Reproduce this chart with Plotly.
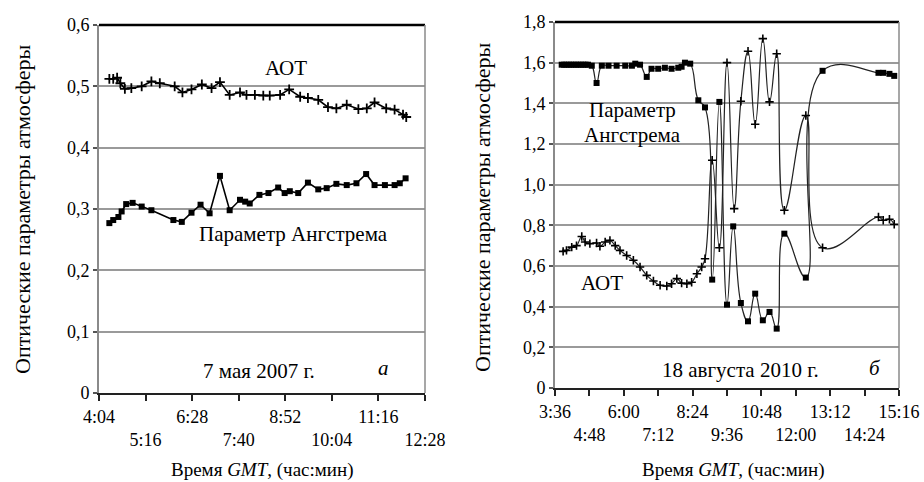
import plotly.graph_objects as go

# ---------------- data ----------------
# Panel a: 7 May 2007
a_aot_time = ["4:20","4:26","4:32","4:37","4:44","4:54","5:10","5:25","5:38","6:01","6:13","6:27",
              "6:43","6:58","7:11","7:26","7:42","7:52","8:05","8:18","8:28","8:44","8:58","9:15",
              "9:27","9:43","9:58","10:11","10:27","10:45","10:58","11:10","11:28","11:41","11:54","11:59"]
a_aot_val = [0.512,0.512,0.514,0.505,0.496,0.497,0.500,0.508,0.505,0.500,0.490,0.495,
             0.503,0.497,0.507,0.486,0.490,0.486,0.486,0.485,0.485,0.486,0.495,0.483,
             0.481,0.478,0.466,0.464,0.470,0.463,0.464,0.474,0.464,0.462,0.454,0.450]

a_ang_time = ["4:20","4:26","4:34","4:39","4:46","4:56","5:10","5:25","5:59","6:12","6:27","6:41",
              "6:55","7:11","7:26","7:42","7:50","7:57","8:12","8:26","8:41","8:51","8:59","9:12",
              "9:27","9:43","9:56","10:11","10:27","10:42","10:57","11:10","11:26","11:41","11:49","11:58"]
a_ang_val = [0.277,0.282,0.287,0.296,0.308,0.310,0.304,0.298,0.282,0.279,0.294,0.307,
             0.293,0.354,0.298,0.315,0.312,0.309,0.323,0.326,0.335,0.326,0.329,0.326,
             0.343,0.332,0.334,0.341,0.339,0.342,0.357,0.339,0.339,0.339,0.342,0.350]

# Panel b: 18 August 2010
b_ang_time = ["3:50","3:55","4:00","4:05","4:10","4:15","4:20","4:25","4:30","4:35","4:40","4:45",
              "4:53","5:03","5:14","5:28","5:45","6:03","6:17","6:24","6:34","6:48","6:58","7:12",
              "7:26","7:40","7:54","8:01","8:08","8:19","8:36","8:50","9:05","9:20","9:36","9:49",
              "10:05","10:20","10:35","10:51","11:05","11:20","11:36","12:21","12:56","14:53",
              "15:03","15:16","15:26"]
b_ang_val = [1.59,1.59,1.59,1.59,1.59,1.59,1.59,1.59,1.59,1.59,1.59,1.59,
             1.585,1.50,1.585,1.585,1.585,1.585,1.585,1.595,1.59,1.53,1.57,1.57,
             1.575,1.57,1.575,1.58,1.60,1.595,1.415,1.38,0.533,1.407,0.41,0.795,
             0.418,0.328,0.464,0.333,0.374,0.292,0.759,0.543,1.56,1.55,
             1.55,1.545,1.535]

b_aot_time = ["3:53","4:00","4:11","4:21","4:32","4:39","4:49","5:03","5:10","5:21","5:31","5:42",
              "5:52","6:06","6:20","6:34","6:48","7:02","7:16","7:30","7:40","7:51","8:01","8:12",
              "8:22","8:33","8:43","8:50","9:05","9:20","9:36","9:51","10:05","10:20","10:35",
              "10:51","11:05","11:20","11:36","12:21","12:56","14:53","15:03","15:16","15:26"]
b_aot_val = [0.672,0.677,0.693,0.700,0.745,0.718,0.710,0.713,0.697,0.718,0.726,0.700,
             0.677,0.652,0.628,0.595,0.554,0.526,0.505,0.502,0.513,0.538,0.516,0.513,
             0.520,0.562,0.595,0.636,1.12,0.69,1.60,0.882,1.41,1.656,1.297,
             1.718,1.407,1.644,0.874,1.34,0.69,0.841,0.825,0.83,0.805]

# axis ticks
a_xtick_labels = ["4:04","5:16","6:28","7:40","8:52","10:04","11:16","12:28"]
b_xtick_labels = ["3:36","4:48","6:00","7:12","8:24","9:36","10:48","12:00","13:12","14:24","15:16"]
b_xtick_pos    = ["3:36","4:48","6:00","7:12","8:24","9:36","10:48","12:00","13:12","14:24","15:36"]
a_ytick_vals = [0, 0.1, 0.2, 0.3, 0.4, 0.5, 0.6]
a_ytick_text = ["0", "0,1", "0,2", "0,3", "0,4", "0,5", "0,6"]
b_ytick_vals = [0, 0.2, 0.4, 0.6, 0.8, 1.0, 1.2, 1.4, 1.6, 1.8]
b_ytick_text = ["0", "0,2", "0,4", "0,6", "0,8", "1,0", "1,2", "1,4", "1,6", "1,8"]


def minutes(t):
    h, m = t.split(":")
    return int(h) * 60 + int(m)


def stagger(labels):
    return [lab if i % 2 == 0 else "<br>" + lab for i, lab in enumerate(labels)]


W, H = 924, 482
def px(x):
    return x / W
def py(y):
    return 1 - y / H

FONT = "Liberation Serif"
fig = go.Figure()

line_a = dict(color="black", width=1.6)
fig.add_trace(go.Scatter(x=[minutes(t) for t in a_aot_time], y=a_aot_val, mode="lines+markers",
                         line=line_a, marker=dict(symbol="cross-thin", size=7, line=dict(width=1.8, color="black")),
                         xaxis="x", yaxis="y", showlegend=False))
fig.add_trace(go.Scatter(x=[minutes(t) for t in a_ang_time], y=a_ang_val, mode="lines+markers",
                         line=line_a, marker=dict(symbol="square", size=6, color="black"),
                         xaxis="x", yaxis="y", showlegend=False))

line_b = dict(color="#222", width=1.2, shape="spline", smoothing=1.3)
fig.add_trace(go.Scatter(x=[minutes(t) for t in b_ang_time], y=b_ang_val, mode="lines+markers",
                         line=line_b, marker=dict(symbol="square", size=6, color="black"),
                         xaxis="x2", yaxis="y2", showlegend=False))
fig.add_trace(go.Scatter(x=[minutes(t) for t in b_aot_time], y=b_aot_val, mode="lines+markers",
                         line=line_b, marker=dict(symbol="cross-thin", size=6, line=dict(width=1.6, color="black")),
                         xaxis="x2", yaxis="y2", showlegend=False))

tickfont = dict(family=FONT, size=18, color="black")
xcommon = dict(showgrid=False, zeroline=False, showline=True, linecolor="#222", linewidth=2,
               ticks="outside", ticklen=6, tickwidth=1.5, tickcolor="#222", tickfont=tickfont,
               tickangle=0, automargin=False)
ycommon = dict(showgrid=True, gridcolor="#9a9a9a", gridwidth=1.5, zeroline=False, showline=True,
               linecolor="#8a8a8a", linewidth=2, ticks="outside", ticklen=4, tickwidth=1.5,
               tickcolor="#555", tickfont=tickfont, automargin=False)

a_tv = [minutes(t) for t in a_xtick_labels]
b_tv = [minutes(t) for t in b_xtick_pos]

fig.update_layout(
    width=W, height=H, margin=dict(l=0, r=0, t=0, b=0, autoexpand=False),
    paper_bgcolor="white", plot_bgcolor="white",
    font=dict(family=FONT),
    xaxis=dict(domain=[px(99), px(425)], range=[a_tv[0], a_tv[-1]], anchor="y",
               tickmode="array", tickvals=a_tv, ticktext=stagger(a_xtick_labels), **xcommon),
    yaxis=dict(domain=[py(393), py(25)], range=[0, 0.6], anchor="x",
               tickmode="array", tickvals=a_ytick_vals, ticktext=a_ytick_text, **ycommon),
    xaxis2=dict(domain=[px(555), px(899)], range=[b_tv[0], b_tv[-1]], anchor="y2",
                tickmode="array", tickvals=b_tv, ticktext=stagger(b_xtick_labels), **xcommon),
    yaxis2=dict(domain=[py(388), py(22)], range=[0, 1.8], anchor="x2",
                tickmode="array", tickvals=b_ytick_vals, ticktext=b_ytick_text, **ycommon),
)

shapes = []
for xr, yr in (("x", "y"), ("x2", "y2")):
    shapes.append(dict(type="line", xref=f"{xr} domain", yref=f"{yr} domain", x0=0, x1=1, y0=1, y1=1,
                       line=dict(color="black", width=2.5)))
    shapes.append(dict(type="line", xref=f"{xr} domain", yref=f"{yr} domain", x0=1, x1=1, y0=0, y1=1,
                       line=dict(color="#8a8a8a", width=1.5)))
# white box behind the right-panel label
shapes.append(dict(type="rect", xref="paper", yref="paper", x0=px(568), x1=px(695), y0=py(150), y1=py(94),
                   fillcolor="white", line=dict(width=0), layer="between"))
fig.update_layout(shapes=shapes)

annfont = dict(family=FONT, size=21, color="black")
anns = [
    dict(x=px(286), y=py(68), text="АОТ"),
    dict(x=px(293), y=py(234), text="Параметр Ангстрема"),
    dict(x=px(259), y=py(371), text="7 мая 2007 г."),
    dict(x=px(383), y=py(368), text="<i>а</i>"),
    dict(x=px(632), y=py(110), text="Параметр"),
    dict(x=px(632), y=py(135), text="Ангстрема"),
    dict(x=px(602), y=py(283), text="АОТ"),
    dict(x=px(740), y=py(370), text="18 августа 2010 г."),
    dict(x=px(875), y=py(368), text="<i>б</i>"),
]
annotations = [dict(xref="paper", yref="paper", showarrow=False, font=annfont,
                    xanchor="center", yanchor="middle", **a) for a in anns]
titlefont = dict(family=FONT, size=19, color="black")
ytitlefont = dict(family=FONT, size=22, color="black")
annotations += [
    dict(x=px(262), y=py(470), text="Время <i>GMT</i>, (час:мин)", font=titlefont),
    dict(x=px(733), y=py(470), text="Время <i>GMT</i>, (час:мин)", font=titlefont),
    dict(x=px(22), y=py(210), text="Оптические параметры атмосферы", font=ytitlefont, textangle=-90),
    dict(x=px(482), y=py(208), text="Оптические параметры атмосферы", font=ytitlefont, textangle=-90),
]
for a in annotations[len(anns):]:
    a.update(xref="paper", yref="paper", showarrow=False, xanchor="center", yanchor="middle")
fig.update_layout(annotations=annotations)

fig.write_html("out.html", config={"displayModeBar": False},
               post_script="document.body.style.margin='0';document.body.style.overflow='hidden';")
